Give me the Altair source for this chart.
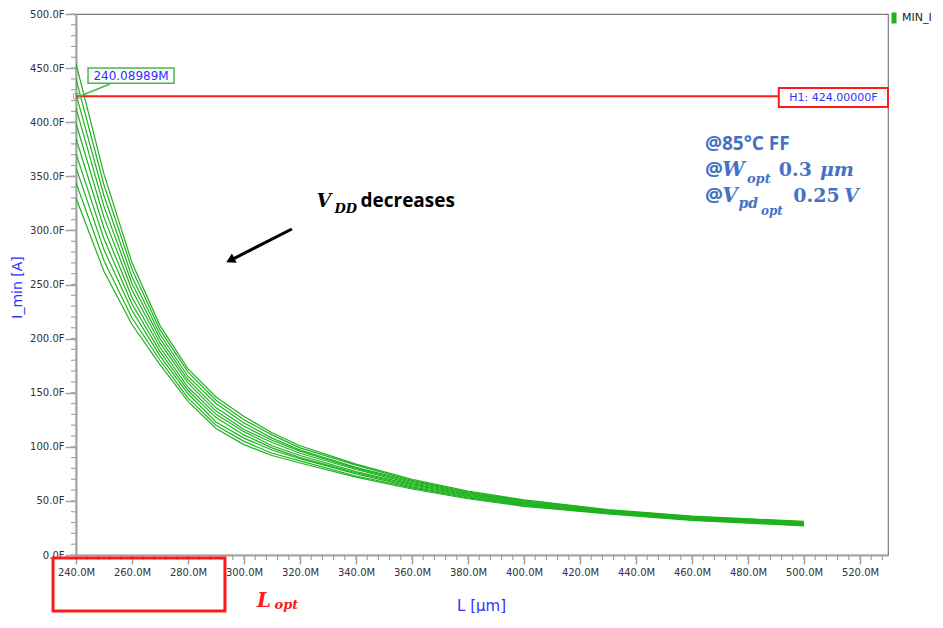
import altair as alt
import pandas as pd

# ---------------- data ----------------
L_VALUES = [240, 250, 260, 270, 280, 290, 300, 310, 320, 340, 360, 380, 400, 430, 460, 500]

CURVE_01 = [330, 262, 213, 176, 142, 117, 102, 92, 85, 72, 61, 52.0, 45.0, 38.0, 32.0, 27.0]
CURVE_02 = [344, 272, 219, 180, 145, 120, 105, 94, 87, 73, 62, 52.8, 45.7, 38.4, 32.4, 27.4]
CURVE_03 = [358, 282, 226, 184, 149, 123, 108, 97, 89, 75, 63, 53.6, 46.3, 38.9, 32.9, 27.9]
CURVE_04 = [371, 292, 232, 188, 152, 127, 111, 99, 90, 76, 64, 54.3, 47.0, 39.3, 33.3, 28.3]
CURVE_05 = [385, 302, 238, 192, 155, 130, 114, 101, 92, 77, 65, 55.1, 47.7, 39.8, 33.8, 28.8]
CURVE_06 = [399, 312, 245, 196, 159, 133, 116, 104, 94, 79, 66, 55.9, 48.3, 40.2, 34.2, 29.2]
CURVE_07 = [413, 322, 251, 200, 162, 136, 119, 106, 96, 80, 67, 56.7, 49.0, 40.7, 34.7, 29.7]
CURVE_08 = [426, 332, 257, 204, 165, 140, 122, 108, 97, 81, 68, 57.4, 49.7, 41.1, 35.1, 30.1]
CURVE_09 = [440, 342, 264, 208, 169, 143, 125, 111, 99, 83, 69, 58.2, 50.3, 41.6, 35.6, 30.6]
CURVE_10 = [454, 352, 270, 212, 172, 146, 128, 113, 101, 84, 70, 59.0, 51.0, 42.0, 36.0, 31.0]
CURVES = [CURVE_01, CURVE_02, CURVE_03, CURVE_04, CURVE_05,
          CURVE_06, CURVE_07, CURVE_08, CURVE_09, CURVE_10]
SERIES_NAME = "MIN_I"

X_TICKS = [240, 260, 280, 300, 320, 340, 360, 380, 400, 420, 440, 460, 480, 500, 520]
X_MINOR = list(range(240, 530, 4))
Y_TICKS = [0, 50, 100, 150, 200, 250, 300, 350, 400, 450, 500]
Y_MINOR = list(range(0, 501, 10))

H1_VALUE = 424
H1_TEXT = "H1: 424.00000F"
MARKER_L = 240.08989
MARKER_TEXT = "240.08989M"

# ---------------- styling ----------------
GREEN = "#1fb21f"
RED = "#ff1a1a"
BLUE_TXT = "#2f2fff"
NOTE_BLUE = "#4472c4"
AXIS_GRAY = "#a3a3a3"
SANS = "DejaVu Sans"
BOLD_SANS = "Open Sans"
MATH = "DejaVu Serif"

xs = alt.Scale(domain=[240, 530], nice=False, zero=False)
ys = alt.Scale(domain=[0, 500], nice=False, zero=False)

rows = []
for ci, curve in enumerate(CURVES):
    for l, v in zip(L_VALUES, curve):
        rows.append({"L": l, "I": v, "curve": ci, "series": SERIES_NAME})
df = pd.DataFrame(rows)

lines = alt.Chart(df).mark_line(strokeWidth=1.2, clip=True).encode(
    x=alt.X("L:Q", scale=xs, axis=alt.Axis(
        values=X_TICKS, labelExpr="format(datum.value, '.1f') + 'M'",
        title="L [µm]", titleColor=BLUE_TXT, titleFont=SANS, titleFontSize=15,
        titleFontWeight="normal", titleX=405, titleY=55, titleBaseline="alphabetic",
        labelFont=SANS, labelFontSize=10, labelColor="#333", labelFlush=False,
        labelPadding=3, tickSize=9, tickColor=AXIS_GRAY, tickWidth=1.5,
        domainColor=AXIS_GRAY, domainWidth=2, grid=False)),
    y=alt.Y("I:Q", scale=ys, axis=alt.Axis(
        values=Y_TICKS, labelExpr="format(datum.value, '.1f') + 'F'",
        title="I_min [A]", titleColor=BLUE_TXT, titleFont=SANS, titleFontSize=14,
        titleFontWeight="normal", titleX=-59, titleY=273, titleBaseline="middle",
        labelFont=SANS, labelFontSize=10, labelColor="#333", labelFlush=False,
        labelPadding=1, tickSize=11, tickColor=AXIS_GRAY, tickWidth=1.5,
        domainColor=AXIS_GRAY, domainWidth=2, grid=False)),
    color=alt.Color("series:N", scale=alt.Scale(range=[GREEN]), legend=alt.Legend(
        title=None, orient="none", legendX=810, legendY=-4, padding=0,
        symbolType="M0,-1L0,1", symbolSize=121, symbolStrokeWidth=5,
        labelFont=SANS, labelFontSize=11, labelColor="#222", labelOffset=0)),
    detail="curve:N",
)


def qx(field):
    return alt.X(field, type="quantitative", scale=xs)


def qy(field):
    return alt.Y(field, type="quantitative", scale=ys)


y_minor = alt.Chart(pd.DataFrame({"v": Y_MINOR})).mark_rule(
    color=AXIS_GRAY, strokeWidth=1.2).encode(
    y=qy("v"), x=alt.value(-5), x2=alt.value(0))
x_minor = alt.Chart(pd.DataFrame({"v": X_MINOR})).mark_rule(
    color=AXIS_GRAY, strokeWidth=1.2).encode(
    x=qx("v"), y=alt.value(541), y2=alt.value(546))

h1_rule = alt.Chart(pd.DataFrame({"a": [240], "b": [491], "v": [H1_VALUE]})).mark_rule(
    color=RED, strokeWidth=2).encode(x=qx("a"), x2="b:Q", y=qy("v"))
h1_box = alt.Chart(pd.DataFrame({"a": [491], "b": [530], "c": [414.0], "d": [431.6]})).mark_rect(
    fill="white", stroke=RED, strokeWidth=2).encode(
    x=qx("a"), x2="b:Q", y=qy("c"), y2="d:Q")
h1_text = alt.Chart(pd.DataFrame({"a": [510.5], "v": [422.8], "t": [H1_TEXT]})).mark_text(
    font=SANS, fontSize=11, color=BLUE_TXT, align="center", baseline="middle").encode(
    x=qx("a"), y=qy("v"), text="t:N")

mk_lead = alt.Chart(pd.DataFrame({"a": [240.7], "b": [252.1], "c": [423.3], "d": [435.3]})).mark_rule(
    color="#44bb44", strokeWidth=1.5).encode(
    x=qx("a"), x2="b:Q", y=qy("c"), y2="d:Q")
mk_point = alt.Chart(pd.DataFrame({"a": [MARKER_L], "v": [H1_VALUE]})).mark_point(
    shape="square", filled=False, color="#888", size=30, strokeWidth=1).encode(
    x=qx("a"), y=qy("v"))
mk_box = alt.Chart(pd.DataFrame({"a": [244.3], "b": [275.0], "c": [436.0], "d": [450.0]})).mark_rect(
    fill="white", stroke="#44bb44", strokeWidth=1.5).encode(
    x=qx("a"), x2="b:Q", y=qy("c"), y2="d:Q")
mk_text = alt.Chart(pd.DataFrame({"a": [259.65], "v": [442.8], "t": [MARKER_TEXT]})).mark_text(
    font=SANS, fontSize=12, color=BLUE_TXT, align="center", baseline="middle").encode(
    x=qx("a"), y=qy("v"), text="t:N")

arrow_line = alt.Chart(pd.DataFrame({"a": [317.1], "b": [295.5], "c": [301.3], "d": [272.8]})).mark_rule(
    color="black", strokeWidth=3).encode(
    x=qx("a"), x2="b:Q", y=qy("c"), y2="d:Q")
arrow_head = alt.Chart(pd.DataFrame({"a": [295.1], "v": [272.4]})).mark_point(
    shape="triangle-up", filled=True, color="black", size=110, angle=243, opacity=1).encode(
    x=qx("a"), y=qy("v"))

lopt_box = alt.Chart(pd.DataFrame({"a": [231.8], "b": [293.2], "c": [-2.8], "d": [-51.8]})).mark_rect(
    fill=None, stroke=RED, strokeWidth=3, clip=False).encode(
    x=qx("a"), x2="b:Q", y=qy("c"), y2="d:Q")


def label(text, l_pos, i_pos, size, font, color, weight="normal", style="normal"):
    return alt.Chart(pd.DataFrame({"a": [l_pos], "v": [i_pos], "t": [text]})).mark_text(
        align="left", baseline="alphabetic", fontSize=size, font=font, color=color,
        fontWeight=weight, fontStyle=style).encode(
        x=qx("a"), y=qy("v"), text="t:N")


notes = [
    # conditions block
    label("@85°C FF", 464.6, 374.3, 19, BOLD_SANS, NOTE_BLUE, "bold"),
    label("@", 464.6, 350.3, 20, BOLD_SANS, NOTE_BLUE, "bold"),
    label("W", 470.8, 350.3, 20, MATH, NOTE_BLUE, "bold", "italic"),
    label("opt", 479.6, 343.8, 13, MATH, NOTE_BLUE, "bold", "italic"),
    label("0.3", 491.0, 350.3, 19, MATH, NOTE_BLUE, "bold"),
    label("μm", 505.7, 350.3, 19, MATH, NOTE_BLUE, "bold", "italic"),
    label("@", 464.6, 326.2, 20, BOLD_SANS, NOTE_BLUE, "bold"),
    label("V", 470.8, 326.2, 20, MATH, NOTE_BLUE, "bold", "italic"),
    label("pd", 476.6, 320.7, 14, MATH, NOTE_BLUE, "bold", "italic"),
    label("opt", 484.6, 314.2, 12, MATH, NOTE_BLUE, "bold", "italic"),
    label("0.25", 496.2, 326.2, 19, MATH, NOTE_BLUE, "bold"),
    label("V", 514.3, 326.2, 19, MATH, NOTE_BLUE, "bold", "italic"),
    # V_DD decreases
    label("V", 325.9, 321.6, 19, MATH, "black", "bold", "italic"),
    label("DD", 332.3, 316.1, 13, MATH, "black", "bold", "italic"),
    label("decreases", 341.6, 321.6, 19, BOLD_SANS, "black", "bold"),
    # L_opt
    label("L", 304.6, -48.1, 20, MATH, RED, "bold", "italic"),
    label("opt", 310.9, -50.3, 13, MATH, RED, "bold", "italic"),
]

chart = alt.layer(
    lines, y_minor, x_minor, h1_rule, h1_box, h1_text,
    mk_lead, mk_point, mk_box, mk_text, arrow_line, arrow_head, lopt_box, *notes
).properties(
    width=812, height=541,
    autosize=alt.AutoSizeParams(type="none"),
    padding={"left": 68, "top": 6, "right": 47, "bottom": 58},
    background="white",
).configure_view(stroke="#777", strokeWidth=1.2)

chart.save("out.html", embed_options={"renderer": "svg", "actions": False})
